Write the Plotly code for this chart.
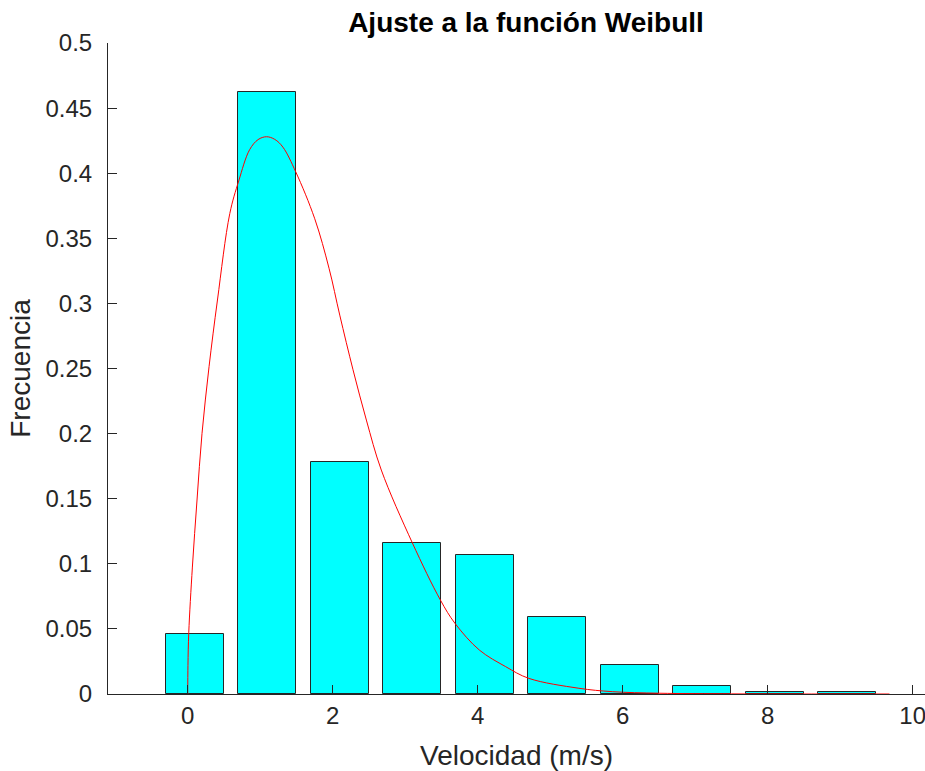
import plotly.graph_objects as go

# Histogram bars
bin_centers = [0.1, 1.1, 2.1, 3.1, 4.1, 5.1, 6.1, 7.1, 8.1, 9.1]
frequencies = [0.046, 0.462, 0.178, 0.116, 0.107, 0.059, 0.022, 0.006, 0.0015, 0.0015]

# Weibull fit curve
curve_x = [0.0, 0.003, 0.014, 0.064, 0.128, 0.197, 0.294, 0.41, 0.58, 0.703,
           0.853, 0.97, 1.086, 1.2, 1.313, 1.49, 1.752, 1.949, 2.097, 2.28, 2.464, 2.67,
           3.099, 3.485, 3.686, 4.022, 4.386, 4.706, 5.396, 5.856, 6.5, 7.5, 8.5, 9.68]
curve_y = [0.0, 0.022, 0.047, 0.0975, 0.149, 0.2002, 0.2514, 0.3026, 0.369, 0.394,
           0.418, 0.4258, 0.428, 0.426, 0.420, 0.401, 0.365, 0.327, 0.291, 0.249, 0.2104, 0.172,
           0.116, 0.0722, 0.0543, 0.0338, 0.021, 0.012, 0.0044, 0.0018, 0.0006, 0.0001, 0.0, 0.0]

x_ticks = [0, 2, 4, 6, 8, 10]
y_ticks = [0, 0.05, 0.1, 0.15, 0.2, 0.25, 0.3, 0.35, 0.4, 0.45, 0.5]
y_tick_labels = ["0", "0.05", "0.1", "0.15", "0.2", "0.25", "0.3", "0.35", "0.4", "0.45", "0.5"]

axis_color = "#262626"
font_family = "Liberation Sans, Arial, sans-serif"

fig = go.Figure()
fig.add_trace(go.Bar(
    x=bin_centers, y=frequencies, width=0.8,
    marker=dict(color="#00FFFF", line=dict(color=axis_color, width=1)),
    showlegend=False,
))
fig.add_trace(go.Scatter(
    x=curve_x, y=curve_y, mode="lines",
    line=dict(color="#FF0000", width=1, shape="spline", smoothing=1.0),
    showlegend=False,
))

fig.update_layout(
    width=925, height=771,
    margin=dict(l=108, r=0, t=43, b=77),
    paper_bgcolor="white", plot_bgcolor="white",
    font=dict(family=font_family, color=axis_color, size=24),
    title=dict(text="<b>Ajuste a la función Weibull</b>", xref="container", x=526 / 925,
               xanchor="center", yref="container", y=1 - 22 / 771, yanchor="middle",
               font=dict(size=28, color="#000000", family=font_family)),
    xaxis=dict(
        range=[-1.10, 10.17], tickvals=x_ticks, ticktext=[str(v) for v in x_ticks],
        ticks="inside", ticklen=9, tickcolor=axis_color, tickwidth=1,
        showline=True, linecolor=axis_color, linewidth=1, mirror=False,
        showgrid=False, zeroline=False, ticklabeloverflow="allow",
        tickfont=dict(size=24, color=axis_color),
        title=dict(text="Velocidad (m/s)", font=dict(size=28, color=axis_color), standoff=18),
    ),
    yaxis=dict(
        range=[0, 0.5], tickvals=y_ticks, ticktext=y_tick_labels,
        ticks="inside", ticklen=9, tickcolor=axis_color, tickwidth=1,
        showline=True, linecolor=axis_color, linewidth=1, mirror=False,
        showgrid=False, zeroline=False,
        tickfont=dict(size=24, color=axis_color),
        ticklabelstandoff=10,
        title=dict(text="Frecuencia", font=dict(size=28, color=axis_color), standoff=6),
    ),
    bargap=0,
)

fig.write_html("out.html")
